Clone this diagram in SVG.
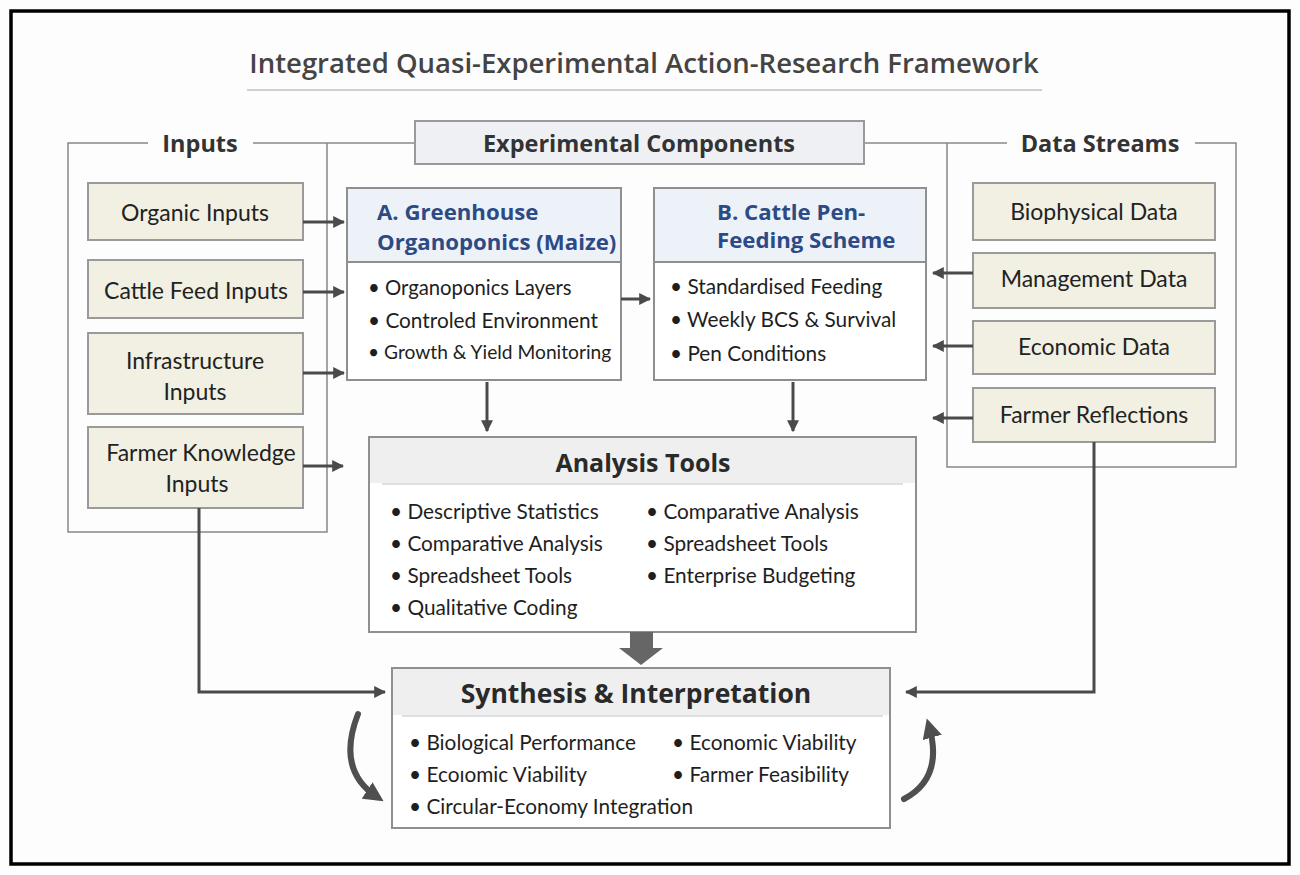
<svg xmlns="http://www.w3.org/2000/svg" width="1300" height="875" viewBox="0 0 1300 875">
<defs>
<style>
.bg{fill:#fdfdfd}
.frame{fill:none;stroke:#000;stroke-width:3.5}
.title{font-family:"Open Sans",sans-serif;font-weight:600;font-size:27.5px;fill:#444}
.grp{font-family:"Open Sans",sans-serif;font-weight:700;font-size:23.5px;fill:#333}
.bracket{fill:none;stroke:#888;stroke-width:1.5}
.inbox{fill:#f1f0e3;stroke:#9a9a9a;stroke-width:2}
.lbl{font-family:Lato,"Open Sans",sans-serif;font-size:23px;fill:#222}
.comp{fill:#fff;stroke:#8f8f8f;stroke-width:2}
.comphead{fill:#edf1f8}
.compt{font-family:"Open Sans",sans-serif;font-weight:700;font-size:22.2px;fill:#2c4a85}
.bul{font-family:Lato,"Open Sans",sans-serif;font-size:20.8px;fill:#1e1e1e}
.big{font-family:"Open Sans",sans-serif;font-weight:700;font-size:25px;fill:#2a2a2a}
.head{fill:#efefef}
.sep{stroke:#d0d4da;stroke-width:1.5}
.arr{fill:none;stroke:#4a4a4a;stroke-width:3}
.curve{fill:none;stroke:#4f4f4f;stroke-width:6;stroke-linecap:round}
</style>
<marker id="ah" viewBox="0 0 10 10" refX="9" refY="5" markerWidth="4" markerHeight="4" orient="auto" markerUnits="strokeWidth">
<path d="M0,0 L10,5 L0,10 z" fill="#4a4a4a"/>
</marker>
<marker id="ahc" viewBox="0 0 10 10" refX="6" refY="5" markerWidth="3.3" markerHeight="3.3" orient="auto" markerUnits="strokeWidth">
<path d="M0,0 L10,5 L0,10 z" fill="#4f4f4f"/>
</marker>
</defs>
<rect class="bg" x="0" y="0" width="1300" height="875"/>
<rect class="frame" x="11" y="11" width="1278" height="853"/>

<g id="title">
<text class="title" x="644" y="62" text-anchor="middle" dominant-baseline="central">Integrated Quasi-Experimental Action-Research Framework</text>
<line x1="247" y1="90" x2="1042" y2="90" stroke="#cfcfcf" stroke-width="2"/>
</g>

<g id="inputs-group">
<path class="bracket" d="M148,143 H68 V532 H327 V143"/>
<path class="bracket" d="M253,143 H415"/>
<text class="grp" x="200" y="143" text-anchor="middle" dominant-baseline="central">Inputs</text>
</g>

<g id="data-streams-group">
<path class="bracket" d="M864,143 H1007"/>
<path class="bracket" d="M1195,143 H1236 V467 H947 V143"/>
<text class="grp" x="1100" y="143" text-anchor="middle" dominant-baseline="central">Data Streams</text>
</g>

<g id="experimental-components">
<rect x="415" y="121" width="449" height="43" fill="#eef0f3" stroke="#9a9a9a" stroke-width="2"/>
<text class="grp" x="639" y="143" text-anchor="middle" dominant-baseline="central">Experimental Components</text>
</g>

<g id="organic-inputs">
<rect class="inbox" x="88" y="183" width="215" height="57"/>
<text class="lbl" x="195" y="212" text-anchor="middle" dominant-baseline="central">Organic Inputs</text>
</g>
<g id="cattle-feed-inputs">
<rect class="inbox" x="88" y="260" width="215" height="58"/>
<text class="lbl" x="196" y="290" text-anchor="middle" dominant-baseline="central">Cattle Feed Inputs</text>
</g>
<g id="infrastructure-inputs">
<rect class="inbox" x="88" y="333" width="215" height="81"/>
<text class="lbl" x="195" y="360" text-anchor="middle" dominant-baseline="central">Infrastructure</text>
<text class="lbl" x="195" y="391" text-anchor="middle" dominant-baseline="central">Inputs</text>
</g>
<g id="farmer-knowledge-inputs">
<rect class="inbox" x="88" y="427" width="215" height="81"/>
<text class="lbl" x="201" y="452" text-anchor="middle" dominant-baseline="central">Farmer Knowledge</text>
<text class="lbl" x="197" y="483" text-anchor="middle" dominant-baseline="central">Inputs</text>
</g>

<g id="component-a">
<rect class="comp" x="347" y="188" width="274" height="192"/>
<rect class="comphead" x="348" y="189" width="272" height="73"/>
<line x1="347" y1="262" x2="621" y2="262" stroke="#8f8f8f" stroke-width="2"/>
<text class="compt" x="377" y="211" dominant-baseline="central">A. Greenhouse</text>
<text class="compt" x="377" y="241" dominant-baseline="central">Organoponics (Maize)</text>
<text class="bul" x="368" y="287" dominant-baseline="central" style="font-size:20.3px">•  Organoponics Layers</text>
<text class="bul" x="368" y="319" dominant-baseline="central">•  Controled Environment</text>
<text class="bul" x="368" y="351" dominant-baseline="central" style="font-size:19.2px">•  Growth &amp; Yield Monitoring</text>
</g>

<g id="component-b">
<rect class="comp" x="654" y="188" width="272" height="192"/>
<rect class="comphead" x="655" y="189" width="270" height="73"/>
<line x1="654" y1="262" x2="926" y2="262" stroke="#8f8f8f" stroke-width="2"/>
<text class="compt" x="717" y="211" dominant-baseline="central">B. Cattle Pen-</text>
<text class="compt" x="717" y="239" dominant-baseline="central">Feeding Scheme</text>
<text class="bul" x="670" y="285" dominant-baseline="central">•  Standardised Feeding</text>
<text class="bul" x="670" y="318" dominant-baseline="central">•  Weekly BCS &amp; Survival</text>
<text class="bul" x="670" y="352" dominant-baseline="central">•  Pen Conditions</text>
</g>

<g id="biophysical-data">
<rect class="inbox" x="973" y="183" width="242" height="57"/>
<text class="lbl" x="1094" y="211" text-anchor="middle" dominant-baseline="central">Biophysical Data</text>
</g>
<g id="management-data">
<rect class="inbox" x="973" y="253" width="242" height="55"/>
<text class="lbl" x="1094" y="278" text-anchor="middle" dominant-baseline="central">Management Data</text>
</g>
<g id="economic-data">
<rect class="inbox" x="973" y="321" width="242" height="53"/>
<text class="lbl" x="1094" y="346" text-anchor="middle" dominant-baseline="central">Economic Data</text>
</g>
<g id="farmer-reflections">
<rect class="inbox" x="973" y="388" width="242" height="54"/>
<text class="lbl" x="1094" y="414" text-anchor="middle" dominant-baseline="central">Farmer Reflections</text>
</g>

<g id="analysis-tools">
<rect class="comp" x="369" y="437" width="547" height="195"/>
<rect class="head" x="370" y="438" width="545" height="45"/>
<line class="sep" x1="382" y1="484" x2="903" y2="484"/>
<text class="big" x="643" y="462" text-anchor="middle" dominant-baseline="central">Analysis Tools</text>
<text class="bul" x="390" y="510" dominant-baseline="central">•  Descriptive Statistics</text>
<text class="bul" x="390" y="542" dominant-baseline="central">•  Comparative Analysis</text>
<text class="bul" x="390" y="574" dominant-baseline="central">•  Spreadsheet Tools</text>
<text class="bul" x="390" y="606" dominant-baseline="central">•  Qualitative Coding</text>
<text class="bul" x="646" y="510" dominant-baseline="central">•  Comparative Analysis</text>
<text class="bul" x="646" y="542" dominant-baseline="central">•  Spreadsheet Tools</text>
<text class="bul" x="646" y="574" dominant-baseline="central">•  Enterprise Budgeting</text>
</g>

<g id="synthesis">
<rect class="comp" x="392" y="668" width="498" height="160"/>
<rect class="head" x="393" y="669" width="496" height="46"/>
<line class="sep" x1="402" y1="716" x2="883" y2="716"/>
<text class="big" x="636" y="693" text-anchor="middle" dominant-baseline="central" style="font-size:26.5px">Synthesis &amp; Interpretation</text>
<text class="bul" x="409" y="741" dominant-baseline="central">•  Biological Performance</text>
<text class="bul" x="409" y="773" dominant-baseline="central">•  Ecoıomic Viability</text>
<text class="bul" x="409" y="805" dominant-baseline="central">•  Circular-Economy Integration</text>
<text class="bul" x="672" y="741" dominant-baseline="central">•  Economic Viability</text>
<text class="bul" x="672" y="773" dominant-baseline="central">•  Farmer Feasibility</text>
</g>

<g id="connectors">
<line class="arr" x1="303" y1="222" x2="344" y2="222" marker-end="url(#ah)"/>
<line class="arr" x1="303" y1="292" x2="344" y2="292" marker-end="url(#ah)"/>
<line class="arr" x1="303" y1="373" x2="344" y2="373" marker-end="url(#ah)"/>
<line class="arr" x1="303" y1="466" x2="343" y2="466" marker-end="url(#ah)"/>
<line class="arr" x1="621" y1="299" x2="650" y2="299" marker-end="url(#ah)"/>
<line class="arr" x1="973" y1="273" x2="933" y2="273" marker-end="url(#ah)"/>
<line class="arr" x1="973" y1="346" x2="933" y2="346" marker-end="url(#ah)"/>
<line class="arr" x1="973" y1="418" x2="933" y2="418" marker-end="url(#ah)"/>
<line class="arr" x1="487" y1="382" x2="487" y2="431" marker-end="url(#ah)"/>
<line class="arr" x1="793" y1="382" x2="793" y2="431" marker-end="url(#ah)"/>
<path d="M630,632 H653 V648 H663 L641,665 L619,648 H630 Z" fill="#666"/>
<path class="arr" d="M199,508 V692 H385" marker-end="url(#ah)"/>
<path class="arr" d="M1094,442 V692 H906" marker-end="url(#ah)"/>
<path class="curve" d="M358,714 Q336,770 377,797" marker-end="url(#ahc)"/>
<path class="curve" d="M904,799 Q944,778 929,726" marker-end="url(#ahc)"/>
</g>
</svg>
